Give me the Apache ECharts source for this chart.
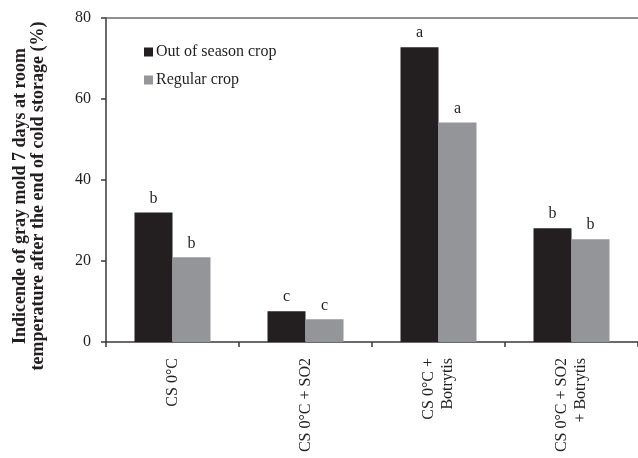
<!DOCTYPE html>
<html>
<head>
<meta charset="utf-8">
<script src="https://cdn.jsdelivr.net/npm/echarts@6/dist/echarts.min.js"></script>
<style>
html,body{margin:0;padding:0;background:#fff;}
#chart{width:638px;height:458px;}
</style>
</head>
<body>
<div id="chart"></div>
<script>
var categories = ['CS 0°C', 'CS 0°C + SO2', 'CS 0°C +\nBotrytis', 'CS 0°C + SO2\n+ Botrytis'];
var outOfSeason = [32.0, 7.6, 72.8, 28.1];
var regular = [20.9, 5.6, 54.2, 25.4];
var outOfSeasonLetters = ['b', 'c', 'a', 'b'];
var regularLetters = ['b', 'c', 'a', 'b'];
var yTicks = [0, 20, 40, 60, 80];
var yTitle = ['Indicende of gray mold 7 days at room', 'temperature after the end of cold storage (%)'];

var FONT = '"Liberation Serif", "Times New Roman", serif';

function withLetters(values, letters) {
  return values.map(function (v, i) { return { value: v, letter: letters[i] }; });
}

var chart = echarts.init(document.getElementById('chart'), null, { renderer: 'canvas' });
chart.setOption({
  animation: false,
  backgroundColor: '#ffffff',
  textStyle: { fontFamily: FONT },
  grid: { left: 106, right: 0, top: 18, bottom: 116, containLabel: false },
  legend: {
    orient: 'vertical',
    left: 139,
    top: 39,
    itemWidth: 9,
    itemHeight: 9,
    itemGap: 12,
    icon: 'rect',
    textStyle: { fontFamily: FONT, fontSize: 16, color: '#231f20', padding: [0, 0, 0, -2] },
    data: ['Out of season crop', 'Regular crop']
  },
  xAxis: [{
    type: 'category',
    data: categories,
    boundaryGap: true,
    axisLine: { lineStyle: { color: '#3a3a3a', width: 1.5 } },
    axisTick: { show: true, inside: false, length: 5, alignWithLabel: false, lineStyle: { color: '#3a3a3a', width: 1.5 } },
    axisLabel: {
      rotate: 90,
      interval: 0,
      margin: 16,
      fontFamily: FONT,
      fontSize: 16,
      color: '#231f20',
      lineHeight: 19
    },
    splitLine: { show: false }
  }, {
    type: 'category',
    position: 'top',
    data: categories,
    axisLine: { show: true, lineStyle: { color: '#6d6d6d', width: 1.5 } },
    axisTick: { show: false },
    axisLabel: { show: false },
    splitLine: { show: false }
  }],
  yAxis: {
    type: 'value',
    min: yTicks[0],
    max: yTicks[yTicks.length - 1],
    interval: yTicks[1] - yTicks[0],
    axisLine: { show: true, lineStyle: { color: '#3a3a3a', width: 1.5 } },
    axisTick: { show: true, inside: false, length: 5, lineStyle: { color: '#3a3a3a', width: 1.5 } },
    axisLabel: { margin: 15, fontFamily: FONT, fontSize: 16, color: '#231f20' },
    splitLine: { show: false }
  },
  graphic: [{
    type: 'text',
    x: 29,
    y: 196,
    rotation: Math.PI / 2,
    style: {
      text: yTitle.join('\n'),
      fontFamily: FONT,
      fontSize: 18,
      fontWeight: 'bold',
      lineHeight: 18,
      fill: '#231f20',
      align: 'center',
      verticalAlign: 'middle'
    }
  }],
  series: [{
    name: 'Out of season crop',
    type: 'bar',
    xAxisIndex: 0,
    data: withLetters(outOfSeason, outOfSeasonLetters),
    barWidth: 38,
    barGap: '0%',
    itemStyle: { color: '#231f20' },
    label: {
      show: true,
      position: 'top',
      distance: 6,
      fontFamily: FONT,
      fontSize: 16,
      color: '#231f20',
      formatter: function (p) { return p.data.letter; }
    }
  }, {
    name: 'Regular crop',
    type: 'bar',
    xAxisIndex: 0,
    data: withLetters(regular, regularLetters),
    barWidth: 38,
    barGap: '0%',
    itemStyle: { color: '#939598' },
    label: {
      show: true,
      position: 'top',
      distance: 6,
      fontFamily: FONT,
      fontSize: 16,
      color: '#231f20',
      formatter: function (p) { return p.data.letter; }
    }
  }]
});
</script>
</body>
</html>
